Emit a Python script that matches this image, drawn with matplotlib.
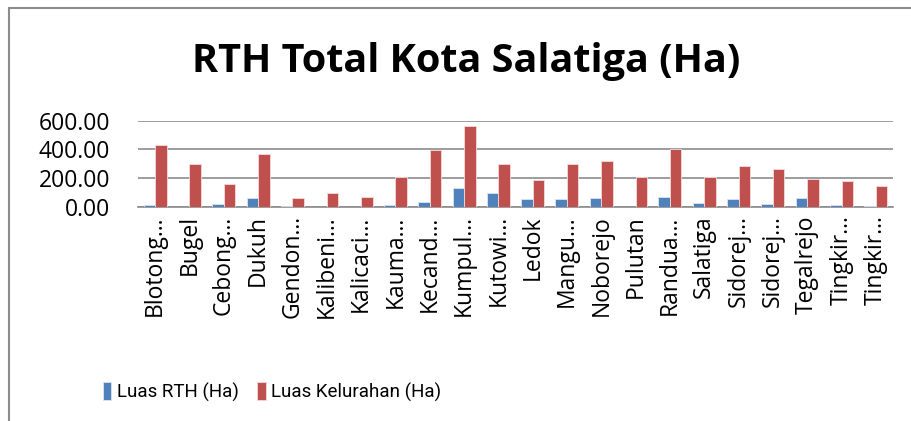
import matplotlib
matplotlib.use("Agg")
from matplotlib import pyplot as plt
from matplotlib.patches import Rectangle
import numpy as np

kelurahan = ["Blotong…", "Bugel", "Cebong…", "Dukuh", "Gendon…", "Kalibeni…",
             "Kalicaci…", "Kauma…", "Kecand…", "Kumpul…", "Kutowi…", "Ledok",
             "Mangu…", "Noborejo", "Pulutan", "Randua…", "Salatiga", "Sidorej…",
             "Sidorej…", "Tegalrejo", "Tingkir…", "Tingkir…"]
luas_rth = [16, 2, 23, 60, 9, 2, 2, 12, 32, 130, 97, 56,
            56, 63, 2, 70, 30, 56, 23, 63, 16, 9]
luas_kelurahan = [431, 299, 158, 366, 60, 97, 70, 209, 396, 565, 299, 188,
                  299, 320, 209, 401, 209, 283, 262, 195, 181, 144]
y_ticks = [0, 200, 400, 600]

blue = "#4F81BD"
red = "#C0504D"
font = "Open Sans"

fig = plt.figure(figsize=(9.11, 4.21), dpi=100)

# chart border (cut off at right/bottom like the screenshot)
fig.patches.append(Rectangle((8.5 / 911, -0.1), 1.2, 1 - 8.5 / 421 + 0.1,
                             transform=fig.transFigure, fill=False,
                             edgecolor="#8c8c8c", linewidth=1.5))

ax = fig.add_axes([138 / 911, 1 - 207 / 421, (893 - 138) / 911, (207 - 120.7) / 421])

x = np.arange(len(kelurahan))
w = 0.335
ax.bar(x - w / 2, luas_rth, w, color=blue, edgecolor="#dbe5f1", linewidth=0.6,
       label="Luas RTH (Ha)", zorder=3)
ax.bar(x + w / 2, luas_kelurahan, w, color=red, edgecolor="#f2dcdb", linewidth=0.6,
       label="Luas Kelurahan (Ha)", zorder=3)

ax.set_xlim(-0.5, len(kelurahan) - 0.5)
ax.set_ylim(0, 600)
ax.set_yticks(y_ticks)
ax.set_yticklabels([f"{v:.2f}" for v in y_ticks], fontsize=16.5, family=font)
ax.set_xticks(x)
ax.set_xticklabels(kelurahan, rotation=90, fontsize=16.5, family=font)
ax.tick_params(axis="both", length=0)
ax.tick_params(axis="y", pad=20)
ax.tick_params(axis="x", pad=6)
ax.grid(axis="y", color="#8c8c8c", linewidth=1.2, zorder=0)
for s in ["top", "right", "left"]:
    ax.spines[s].set_visible(False)
ax.spines["bottom"].set_color("#8c8c8c")
ax.spines["bottom"].set_linewidth(1.2)

fig.text(0.512, 0.853, "RTH Total Kota Salatiga (Ha)", ha="center", va="center",
         fontsize=28.5, fontweight="bold", family=font)

fig.legend(loc="center", bbox_to_anchor=(272 / 911, 1 - 392 / 421), ncol=2,
           frameon=False, prop={"family": "Roboto", "size": 13.5}, handlelength=0.45,
           handleheight=1.1, handletextpad=0.3, columnspacing=1.0)

fig.savefig("out.png", dpi=100)
